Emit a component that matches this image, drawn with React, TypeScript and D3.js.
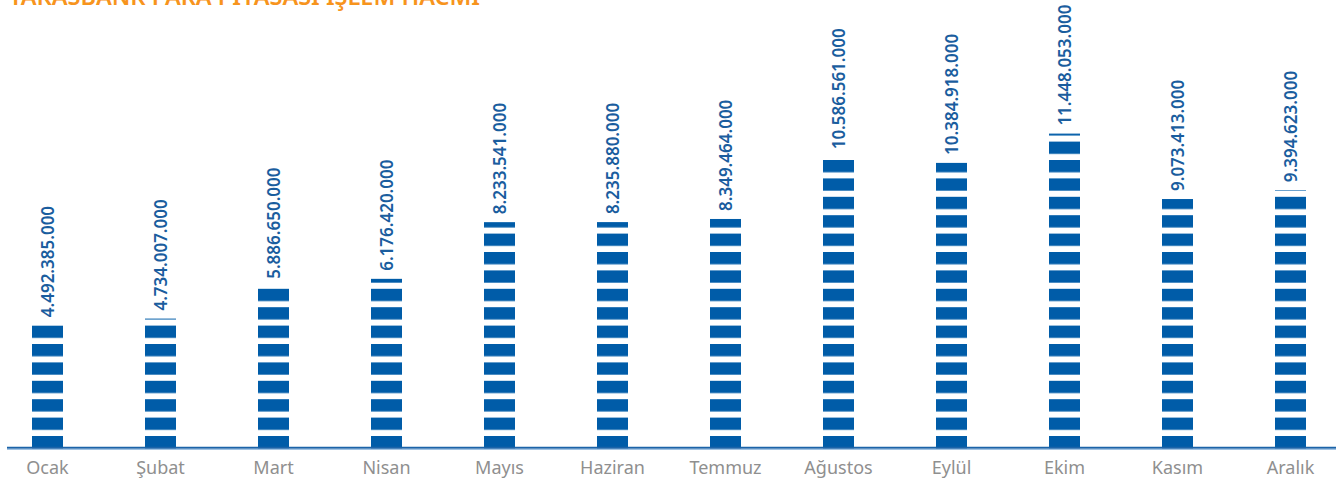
import React from "react";
import * as d3 from "d3";

const title = "TAKASBANK PARA PİYASASI İŞLEM HACMİ";
const months = ["Ocak", "Şubat", "Mart", "Nisan", "Mayıs", "Haziran", "Temmuz", "Ağustos", "Eylül", "Ekim", "Kasım", "Aralık"];
const volumes = [4492385000, 4734007000, 5886650000, 6176420000, 8233541000, 8235880000, 8349464000, 10586561000, 10384918000, 11448053000, 9073413000, 9394623000];

const W = 1336;
const H = 483;
const BASE = 449;
const BAR_W = 31;

const fmt = d3.formatLocale({ decimal: ",", thousands: ".", grouping: [3], currency: ["", ""] }).format(",d");

export default function App() {
  const x = d3.scalePoint<string>().domain(months).range([47.5, 1290.5]);
  const y = d3.scaleLinear().domain([0, 16.3e9]).range([BASE, BASE - 16.3 * 27.55]);

  return (
    <svg width={W} height={H} style={{ position: "absolute", left: 0, top: 0 }} fontFamily="'Noto Sans', sans-serif">
      <defs>
        <pattern id="stripes" patternUnits="userSpaceOnUse" x={0} y={436} width={W} height={18.4}>
          <rect x={0} y={0} width={W} height={12.3} fill="#005ca8" />
        </pattern>
      </defs>
      <text x={9} y={5} fill="#f7941d" fontSize={23.5} fontWeight={600}>{title}</text>
      {months.map((m, i) => {
        const cx = x(m)!;
        const top = y(volumes[i]);
        return (
          <g key={m}>
            <rect x={cx - BAR_W / 2} y={top} width={BAR_W} height={BASE - top} fill="url(#stripes)" />
            <text
              transform={`translate(${cx},${top - 8}) rotate(-90)`}
              dy="0.38em"
              fill="#1a5d9e"
              fontSize={17}
              fontWeight={600}
            >
              {fmt(volumes[i])}
            </text>
            <text x={cx} y={474} textAnchor="middle" fill="#8f8f8f" fontSize={18}>{m}</text>
          </g>
        );
      })}
      <line x1={7} x2={W} y1={447.8} y2={447.8} stroke="#1b63a8" strokeWidth={2} />
      <line x1={7} x2={W} y1={449.3} y2={449.3} stroke="#8ab5dc" strokeWidth={1} />
    </svg>
  );
}
